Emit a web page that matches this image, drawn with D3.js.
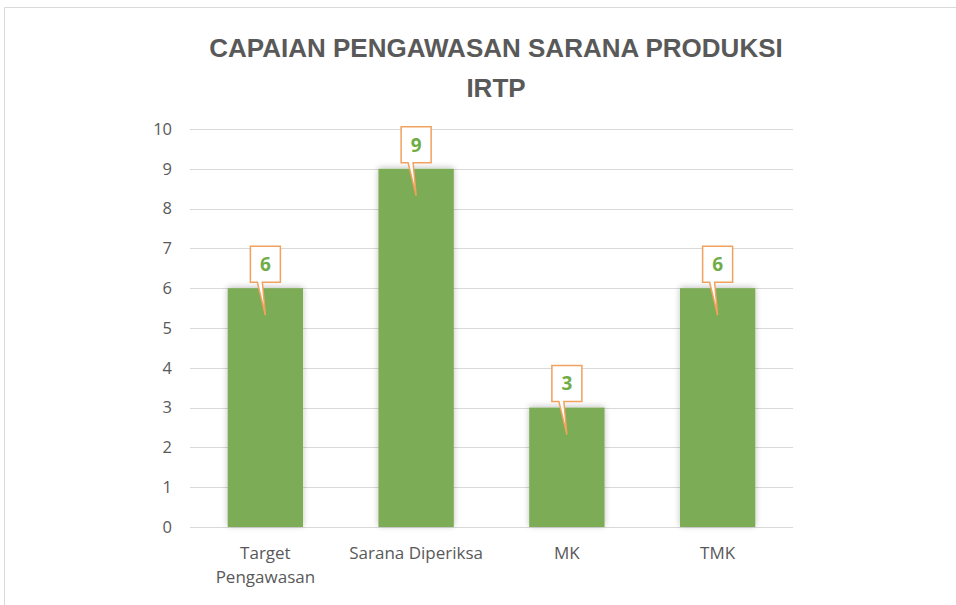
<!DOCTYPE html>
<html lang="en">
<head>
    <meta charset="UTF-8">
    <title>Capaian Pengawasan Sarana Produksi IRTP</title>
    <script src="https://d3js.org/d3.v7.min.js"></script>
    <style>
        body { margin: 0; background: #fff; }
        .tick-label { font-family: "Open Sans", "Liberation Sans", sans-serif; font-size: 16.5px; fill: #595959; }
        .cat-label { font-family: "Open Sans", "Liberation Sans", sans-serif; font-size: 17px; fill: #595959; }
        .title { font-family: "Liberation Sans", Arial, sans-serif; font-weight: bold; font-size: 26px; fill: #595959; text-anchor: middle; }
        .grid-line { stroke: #d9d9d9; stroke-width: 1; shape-rendering: crispEdges; }
        .callout-text { font-family: "Open Sans", "Liberation Sans", sans-serif; font-weight: bold; font-size: 19px; fill: #70ad47; text-anchor: middle; }
    </style>
</head>
<body>
<script>
    // data
    const categories = [["Target", "Pengawasan"], ["Sarana Diperiksa"], ["MK"], ["TMK"]];
    const values = [6, 9, 3, 6];
    const yTickValues = [0, 1, 2, 3, 4, 5, 6, 7, 8, 9, 10];
    const titleLines = ["CAPAIAN PENGAWASAN SARANA PRODUKSI", "IRTP"];

    const width = 956, height = 605;
    const plot = { left: 190, right: 793, top: 129, bottom: 527 };

    const svg = d3.select("body").append("svg")
        .attr("width", width)
        .attr("height", height);

    // soft shadow on bars
    const defs = svg.append("defs");
    const f = defs.append("filter").attr("id", "shadow")
        .attr("x", "-20%").attr("y", "-20%").attr("width", "140%").attr("height", "140%");
    f.append("feGaussianBlur").attr("in", "SourceAlpha").attr("stdDeviation", 3);
    f.append("feOffset").attr("dx", 0).attr("dy", -1).attr("result", "blur");
    f.append("feComponentTransfer").append("feFuncA").attr("type", "linear").attr("slope", 0.25);
    const fm = f.append("feMerge");
    fm.append("feMergeNode");
    fm.append("feMergeNode").attr("in", "SourceGraphic");

    // chart border
    svg.append("path")
        .attr("d", "M4.5," + height + "V7.5H" + width)
        .attr("fill", "none")
        .attr("stroke", "#d9d9d9");

    // title
    svg.selectAll(".title")
        .data(titleLines)
        .enter().append("text")
        .attr("class", "title")
        .attr("x", 496)
        .attr("y", (d, i) => 57 + i * 40)
        .text(d => d);

    const x = d3.scaleBand()
        .domain(categories.map(d => d.join(" ")))
        .range([plot.left, plot.right])
        .paddingInner(0.5)
        .paddingOuter(0.25);

    const y = d3.scaleLinear()
        .domain([0, 10])
        .range([plot.bottom, plot.top]);

    // gridlines
    svg.selectAll(".grid-line")
        .data(yTickValues)
        .enter().append("line")
        .attr("class", "grid-line")
        .attr("x1", plot.left)
        .attr("x2", plot.right)
        .attr("y1", d => Math.round(y(d)) + 0.5)
        .attr("y2", d => Math.round(y(d)) + 0.5);

    // y axis labels
    svg.selectAll(".tick-label")
        .data(yTickValues)
        .enter().append("text")
        .attr("class", "tick-label")
        .attr("x", 172)
        .attr("y", d => y(d))
        .attr("dy", "0.35em")
        .attr("text-anchor", "end")
        .text(d => d);

    // bars
    svg.selectAll(".bar")
        .data(values)
        .enter().append("rect")
        .attr("class", "bar")
        .attr("x", (d, i) => x(categories[i].join(" ")))
        .attr("width", x.bandwidth())
        .attr("y", d => y(d))
        .attr("height", d => y(0) - y(d))
        .attr("fill", "#7cac55")
        .attr("filter", "url(#shadow)");

    // category labels
    const cat = svg.selectAll(".cat-label")
        .data(categories)
        .enter().append("text")
        .attr("class", "cat-label")
        .attr("text-anchor", "middle")
        .attr("x", d => x(d.join(" ")) + x.bandwidth() / 2)
        .attr("y", 559);
    cat.selectAll("tspan")
        .data(d => d)
        .enter().append("tspan")
        .attr("x", function () { return d3.select(this.parentNode).attr("x"); })
        .attr("dy", (d, i) => i === 0 ? 0 : 24)
        .text(d => d);

    // data callouts
    const bw = 30, bh = 36;
    const callouts = svg.selectAll(".callout")
        .data(values)
        .enter().append("g")
        .attr("class", "callout")
        .attr("transform", (d, i) => {
            const cx = x(categories[i].join(" ")) + x.bandwidth() / 2;
            return "translate(" + cx + "," + (y(d) - 6) + ")";
        });

    callouts.append("path")
        .attr("d", () => {
            const l = -bw / 2, r = bw / 2, t = -bh;
            return "M" + l + "," + t + "H" + r + "V0H" + (-3) + "L0,33L" + (-8) + ",0H" + l + "Z";
        })
        .attr("fill", "#fff")
        .attr("stroke", "#f0a25e")
        .attr("stroke-width", 1.5)
        .attr("stroke-linejoin", "miter");

    callouts.append("text")
        .attr("class", "callout-text")
        .attr("x", 0)
        .attr("y", -bh / 2)
        .attr("dy", "0.36em")
        .text(d => d);
</script>
</body>
</html>
